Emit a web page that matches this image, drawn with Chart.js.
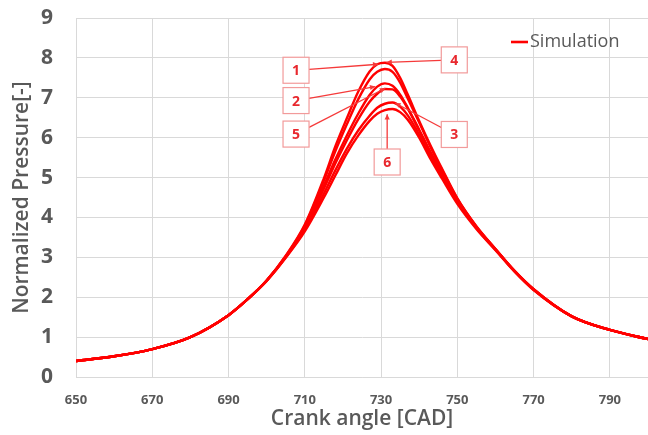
<!DOCTYPE html>
<html>
<head>
<meta charset="utf-8">
<script src="https://cdn.jsdelivr.net/npm/chart.js@4.4.1/dist/chart.umd.min.js"></script>
<style>
  html, body { margin: 0; padding: 0; background: #fff; }
  #wrap { width: 648px; height: 435px; }
</style>
</head>
<body>
<div id="wrap"><canvas id="grafico" width="648" height="435"></canvas></div>
<script>
// crank angle samples
const crankAngle = [650, 660, 670, 680, 690, 695, 700, 705, 710, 715, 718, 721, 724, 727, 729, 731, 733, 735, 737, 740, 743, 746, 750, 755, 760, 765, 770, 780, 790, 800];

// normalized pressure, one array per case
const pressure1 = [0.40, 0.52, 0.70, 1.00, 1.55, 1.95, 2.42, 3.04, 3.82, 4.98, 5.78, 6.48, 7.15, 7.66, 7.84, 7.88, 7.80, 7.50, 7.08, 6.42, 5.80, 5.22, 4.48, 3.78, 3.21, 2.66, 2.20, 1.52, 1.18, 0.95];
const pressure2 = [0.40, 0.52, 0.70, 1.00, 1.55, 1.95, 2.42, 3.03, 3.80, 4.92, 5.66, 6.33, 6.96, 7.46, 7.65, 7.72, 7.65, 7.38, 6.98, 6.38, 5.76, 5.19, 4.47, 3.77, 3.21, 2.66, 2.20, 1.52, 1.18, 0.95];
const pressure3 = [0.40, 0.52, 0.70, 1.00, 1.55, 1.95, 2.42, 3.02, 3.76, 4.80, 5.45, 6.05, 6.60, 7.07, 7.28, 7.36, 7.30, 7.08, 6.75, 6.20, 5.64, 5.12, 4.44, 3.76, 3.20, 2.66, 2.20, 1.52, 1.18, 0.95];
const pressure4 = [0.40, 0.52, 0.70, 1.00, 1.55, 1.95, 2.42, 3.01, 3.73, 4.72, 5.35, 5.93, 6.46, 6.90, 7.10, 7.22, 7.21, 7.03, 6.73, 6.18, 5.61, 5.09, 4.42, 3.75, 3.20, 2.65, 2.19, 1.52, 1.18, 0.95];
const pressure5 = [0.40, 0.52, 0.70, 1.00, 1.55, 1.95, 2.41, 3.00, 3.69, 4.60, 5.18, 5.72, 6.18, 6.55, 6.75, 6.85, 6.88, 6.78, 6.56, 6.08, 5.52, 5.02, 4.38, 3.73, 3.19, 2.65, 2.19, 1.52, 1.18, 0.95];
const pressure6 = [0.40, 0.52, 0.70, 1.00, 1.55, 1.95, 2.41, 2.99, 3.65, 4.50, 5.05, 5.60, 6.05, 6.42, 6.60, 6.69, 6.72, 6.64, 6.45, 6.00, 5.46, 4.97, 4.34, 3.71, 3.18, 2.64, 2.18, 1.52, 1.18, 0.95];

// tick labels on the crank angle axis
const xTicks = [650, 670, 690, 710, 730, 750, 770, 790];

// numbered callouts: box centre and arrow tip, in [CAD, pressure]
const callouts = [
  { label: "1", box: [707.7, 7.69], tip: [729.3, 7.84] },
  { label: "2", box: [707.7, 6.93], tip: [728.5, 7.28] },
  { label: "5", box: [707.7, 6.09], tip: [731.1, 7.24] },
  { label: "4", box: [749.2, 7.95], tip: [731.4, 7.89] },
  { label: "3", box: [749.2, 6.08], tip: [733.7, 6.87] },
  { label: "6", box: [731.6, 5.39], tip: [731.6, 6.59] }
];

const fuente = "'Open Sans', 'DejaVu Sans', sans-serif";
const gris = '#595959';
const rojo = '#ff0000';

const series = [pressure1, pressure2, pressure3, pressure4, pressure5, pressure6];

const datasets = series.map((vals, i) => ({
  label: "Simulation",
  data: crankAngle.map((x, j) => ({ x: x, y: vals[j] })),
  borderColor: rojo,
  backgroundColor: rojo,
  borderWidth: 2.4,
  pointRadius: 0,
  fill: false,
  cubicInterpolationMode: 'monotone'
}));

// draws the boxes with numbers, their arrows and the legend entry
const calloutPlugin = {
  id: 'callouts',
  afterDatasetsDraw(chart) {
    const ctx = chart.ctx;
    const xs = chart.scales.x;
    const ys = chart.scales.y;
    const area = chart.chartArea;
    const half = 13;
    ctx.save();
    callouts.forEach(c => {
      const bx = xs.getPixelForValue(c.box[0]);
      const by = ys.getPixelForValue(c.box[1]);
      const tx = xs.getPixelForValue(c.tip[0]);
      const ty = ys.getPixelForValue(c.tip[1]);
      // start of the arrow on the box edge
      const dx = tx - bx, dy = ty - by;
      const t = Math.min(dx !== 0 ? half / Math.abs(dx) : Infinity, dy !== 0 ? half / Math.abs(dy) : Infinity);
      const sx = bx + dx * t, sy = by + dy * t;
      ctx.strokeStyle = '#f53a3a';
      ctx.fillStyle = '#f53a3a';
      ctx.lineWidth = 1.3;
      ctx.beginPath();
      ctx.moveTo(sx, sy);
      ctx.lineTo(tx, ty);
      ctx.stroke();
      const ang = Math.atan2(ty - sy, tx - sx);
      ctx.beginPath();
      ctx.moveTo(tx, ty);
      ctx.lineTo(tx - 6 * Math.cos(ang - 0.45), ty - 6 * Math.sin(ang - 0.45));
      ctx.lineTo(tx - 6 * Math.cos(ang + 0.45), ty - 6 * Math.sin(ang + 0.45));
      ctx.closePath();
      ctx.fill();
      // box
      ctx.fillStyle = '#ffffff';
      ctx.fillRect(bx - half, by - half, half * 2, half * 2);
      ctx.strokeStyle = '#f29a9a';
      ctx.lineWidth = 1.2;
      ctx.strokeRect(bx - half, by - half, half * 2, half * 2);
      ctx.fillStyle = '#e8282e';
      ctx.font = "bold 14px " + fuente;
      ctx.textAlign = 'center';
      ctx.textBaseline = 'middle';
      ctx.fillText(c.label, bx, by + 1);
    });

    // legend in the top right corner of the plot
    const lx = area.right - 137;
    const ly = area.top + 24;
    ctx.strokeStyle = rojo;
    ctx.lineWidth = 2.6;
    ctx.beginPath();
    ctx.moveTo(lx, ly);
    ctx.lineTo(lx + 17, ly);
    ctx.stroke();
    ctx.fillStyle = gris;
    ctx.font = "18px " + fuente;
    ctx.textAlign = 'left';
    ctx.textBaseline = 'middle';
    ctx.fillText(datasets[0].label, lx + 19, ly);
    ctx.restore();
  }
};

const graph = document.querySelector("#grafico");

new Chart(graph, {
  type: 'line',
  data: { datasets: datasets },
  plugins: [calloutPlugin],
  options: {
    responsive: false,
    animation: false,
    layout: { padding: { top: 18, right: 0, bottom: 0, left: 0 } },
    plugins: {
      tooltip: { enabled: false },
      legend: { display: false }
    },
    scales: {
      x: {
        type: 'linear',
        min: 650,
        max: 800,
        afterBuildTicks(scale) {
          scale.ticks = xTicks.map(v => ({ value: v }));
        },
        ticks: {
          color: gris,
          font: { family: fuente, size: 13, weight: 'bold' },
          padding: 15,
          maxRotation: 0,
          autoSkip: false
        },
        grid: { color: '#d9d9d9', drawTicks: false },
        border: { color: '#d9d9d9' },
        title: {
          display: true,
          text: 'Crank angle [CAD]',
          color: gris,
          font: { family: fuente, size: 21, weight: '600' },
          padding: { top: 0, bottom: 3 }
        },
        afterFit(scale) {
          scale.height = 58;
          scale.paddingRight = 0;
        }
      },
      y: {
        min: 0,
        max: 9,
        ticks: {
          stepSize: 1,
          color: gris,
          font: { family: fuente, size: 21, weight: 'bold' },
          padding: 23
        },
        grid: { color: '#d9d9d9', drawTicks: false },
        border: { color: '#d9d9d9' },
        title: {
          display: true,
          text: 'Normalized Pressure[-]',
          color: gris,
          font: { family: fuente, size: 21, weight: '600' },
          padding: { top: 9, bottom: 0 }
        },
        afterFit(scale) {
          scale.width = 76;
          scale.paddingTop = 0;
          scale.paddingBottom = 0;
        }
      }
    }
  }
});
</script>
</body>
</html>
